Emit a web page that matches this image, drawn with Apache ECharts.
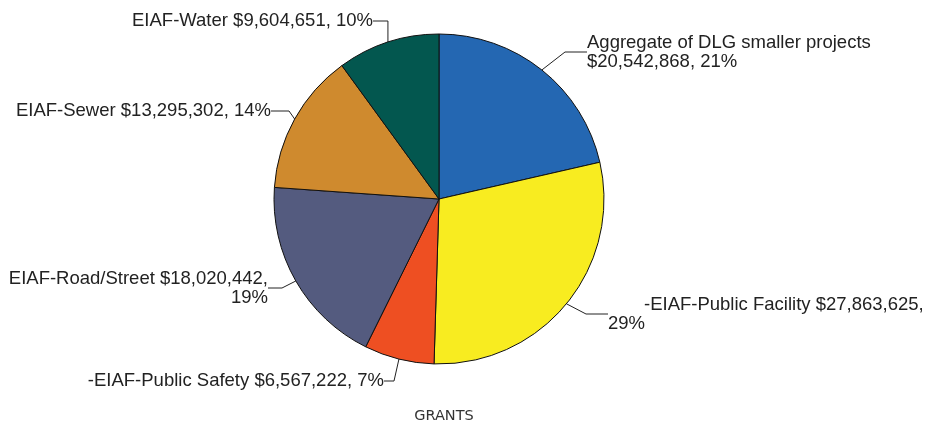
<!DOCTYPE html>
<html>
<head>
<meta charset="utf-8">
<script src="https://cdn.jsdelivr.net/npm/echarts@6/dist/echarts.min.js"></script>
<style>
html,body{margin:0;padding:0;background:#fff;}
#chart{width:933px;height:423px;}
</style>
</head>
<body>
<div id="chart"></div>
<script>
// ---- data ----
var categories = [
  "Aggregate of DLG smaller projects",
  "EIAF-Public Facility",
  "EIAF-Public Safety",
  "EIAF-Road/Street",
  "EIAF-Sewer",
  "EIAF-Water"
];
var amounts = [20542868, 27863625, 6567222, 18020442, 13295302, 9604651];
var percentLabels = ["21%", "29%", "7%", "19%", "14%", "10%"];
var chartTitle = "GRANTS";

// ---- styling / layout (kept separate from data) ----
var colors = ["#2467b2", "#f8ec20", "#ee4f22", "#545b7f", "#cf8a2e", "#03574f"];
var labelPlacement = [
  {x: 587, y: 52,  align: "left"},
  {x: 608, y: 314, align: "left"},
  {x: 384, y: 381, align: "right"},
  {x: 268, y: 288, align: "right"},
  {x: 271, y: 111, align: "right"},
  {x: 373, y: 21,  align: "right"}
];
var guideLen = [22, 22, 10, 14, 18, 15];

function money(v) {
  return "$" + v.toString().replace(/\B(?=(\d{3})+(?!\d))/g, ",");
}

function labelText(i) {
  var name = categories[i], amt = money(amounts[i]), pct = percentLabels[i];
  switch (i) {
    case 0: return "{n|" + name + "}\n{n|" + amt + ", " + pct + "}";
    case 1: return "{p|-" + name + " " + amt + ",}\n{n|" + pct + "}";
    case 2: return "{n|-" + name + " " + amt + ", " + pct + "}";
    case 3: return "{n|" + name + " " + amt + ",}\n{n|" + pct + "}";
    default: return "{n|" + name + " " + amt + ", " + pct + "}";
  }
}

var seriesData = categories.map(function (c, i) {
  return {
    name: c,
    value: amounts[i],
    itemStyle: {color: colors[i]},
    labelLine: {length2: guideLen[i]}
  };
});

var chart = echarts.init(document.getElementById("chart"), null, {renderer: "canvas"});
chart.setOption({
  animation: false,
  backgroundColor: "#ffffff",
  title: {
    text: chartTitle,
    left: 439,
    top: 404,
    textAlign: "center",
    textStyle: {fontFamily: "DejaVu Sans", fontSize: 14.5, fontWeight: "normal", color: "#333"}
  },
  series: [{
    type: "pie",
    center: [439, 199],
    radius: 165,
    startAngle: 90,
    clockwise: true,
    data: seriesData,
    itemStyle: {borderColor: "#111", borderWidth: 1},
    label: {
      show: true,
      position: "outside",
      alignTo: "none",
      overflow: "none",
      color: "#222",
      fontFamily: "Liberation Sans",
      fontSize: 18.5,
      lineHeight: 20,
      formatter: function (p) { return labelText(p.dataIndex); },
      rich: {
        n: {fontFamily: "Liberation Sans", fontSize: 18.5, color: "#222", lineHeight: 19},
        p: {fontFamily: "Liberation Sans", fontSize: 18.5, color: "#222", lineHeight: 19, padding: [0, 0, 0, 36]}
      }
    },
    labelLine: {show: true, lineStyle: {color: "#222", width: 1}, minTurnAngle: 90},
    labelLayout: function (params) {
      var pl = labelPlacement[params.dataIndex];
      return {x: pl.x, y: pl.y, align: pl.align, verticalAlign: "middle", hideOverlap: false};
    },
    emphasis: {disabled: true}
  }]
});
</script>
</body>
</html>
